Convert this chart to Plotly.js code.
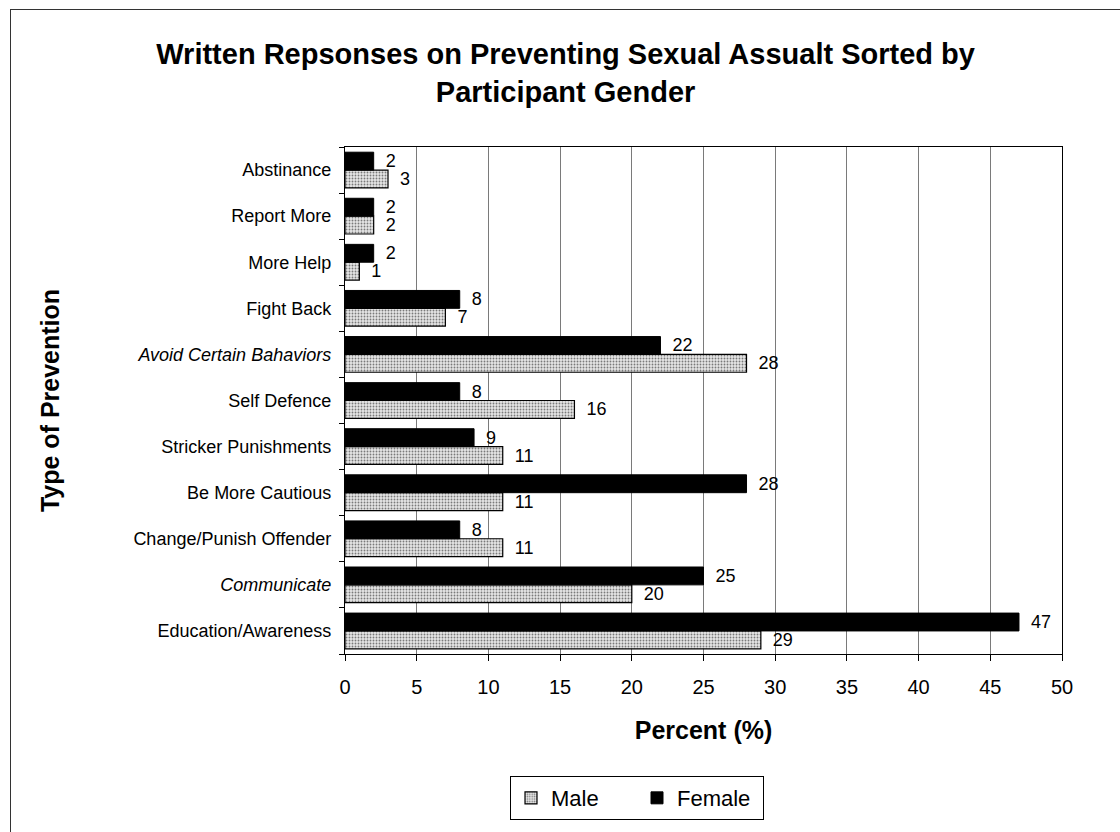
<!DOCTYPE html>
<html>
<head>
<meta charset="utf-8">
<script src="https://cdn.plot.ly/plotly-3.0.1.min.js"></script>
<style>
  html, body { margin: 0; padding: 0; background: #ffffff; }
  #chart { position: absolute; left: 0; top: 0; width: 1120px; height: 832px; }
  #frame { position: absolute; left: 10px; top: 9px; width: 1110px; height: 823px;
           border-left: 1.5px solid #333; border-top: 1.5px solid #333; pointer-events: none; }
</style>
</head>
<body>
<div id="chart"></div>
<div id="frame"></div>
<script>
// Prevention categories, bottom to top
const categories = [
  "Education/Awareness",
  "Communicate",
  "Change/Punish Offender",
  "Be More Cautious",
  "Stricker Punishments",
  "Self Defence",
  "Avoid Certain Bahaviors",
  "Fight Back",
  "More Help",
  "Report More",
  "Abstinance"
];
const italicCategories = ["Communicate", "Avoid Certain Bahaviors"];

// Percent of responses by gender
const maleValues   = [29, 20, 11, 11, 11, 16, 28, 7, 1, 2, 3];
const femaleValues = [47, 25, 8, 28, 9, 8, 22, 8, 2, 2, 2];

const xTicks = [0, 5, 10, 15, 20, 25, 30, 35, 40, 45, 50];

const tickText = categories.map(c => italicCategories.includes(c) ? "<i>" + c + "</i>" : c);

const FONT = "Liberation Sans, Arial, sans-serif";
const labelFont = { family: FONT, size: 18, color: "#000" };

const male = {
  type: "bar",
  orientation: "h",
  name: "Male",
  y: categories,
  x: maleValues,
  texttemplate: "\u2002%{x}",
  textposition: "outside",
  constraintext: "none",
  textfont: labelFont,
  cliponaxis: false,
  marker: {
    color: "#d6d6d6",
    line: { color: "#000", width: 1.2 },
    pattern: { shape: ".", fgcolor: "#7a7a7a", bgcolor: "#e6e6e6", size: 3, solidity: 0.3 }
  },
  hoverinfo: "x+y+name"
};

const female = {
  type: "bar",
  orientation: "h",
  name: "Female",
  y: categories,
  x: femaleValues,
  texttemplate: "\u2002%{x}",
  textposition: "outside",
  constraintext: "none",
  textfont: labelFont,
  cliponaxis: false,
  marker: { color: "#000", line: { color: "#000", width: 1 } },
  hoverinfo: "x+y+name"
};

const layout = {
  width: 1120,
  height: 832,
  paper_bgcolor: "#ffffff",
  plot_bgcolor: "#ffffff",
  margin: { l: 345, r: 58, t: 147, b: 174 },
  font: { family: FONT, color: "#000" },
  title: {
    text: "<b>Written Repsonses on Preventing Sexual Assualt Sorted by<br>Participant Gender</b>",
    font: { size: 29, family: FONT, color: "#000" },
    x: 0.505,
    xanchor: "center",
    y: 1 - 64 / 832,
    yanchor: "middle",
    yref: "container"
  },
  barmode: "group",
  bargap: 0.225,
  bargroupgap: 0,
  xaxis: {
    range: [0, 50],
    tickvals: xTicks,
    ticktext: xTicks.map(String),
    ticks: "outside",
    ticklen: 6,
    tickcolor: "#000",
    tickfont: { size: 20 },
    ticklabelstandoff: 9,
    showgrid: true,
    gridcolor: "#7a7a7a",
    gridwidth: 1,
    zeroline: false,
    showline: true,
    linecolor: "#000",
    linewidth: 1.2,
    mirror: true,
    fixedrange: true,
    title: {
      text: "<b>Percent (%)</b>",
      font: { size: 25 },
      standoff: 24
    }
  },
  yaxis: {
    type: "category",
    categoryorder: "array",
    categoryarray: categories,
    tickvals: categories,
    ticktext: tickText,
    tickson: "boundaries",
    ticks: "outside",
    ticklen: 5,
    tickcolor: "#000",
    tickfont: { size: 18 },
    ticklabelstandoff: 9,
    showgrid: false,
    showline: true,
    linecolor: "#000",
    linewidth: 1.2,
    mirror: true,
    fixedrange: true,
    title: {
      text: "<b>Type of Prevention</b>",
      font: { size: 25 },
      standoff: 66
    },
    automargin: false
  },
  showlegend: true,
  legend: {
    orientation: "h",
    x: (510 - 345) / 717,
    xanchor: "left",
    y: (658 - 781) / 511,
    yanchor: "top",
    bordercolor: "#000",
    borderwidth: 1,
    bgcolor: "#fff",
    font: { size: 22 },
    traceorder: "normal",
    itemwidth: 30,
    entrywidth: 81,
    entrywidthmode: "pixels"
  }
};

Plotly.newPlot("chart", [male, female], layout, { displayModeBar: false, staticPlot: true });
</script>
</body>
</html>
